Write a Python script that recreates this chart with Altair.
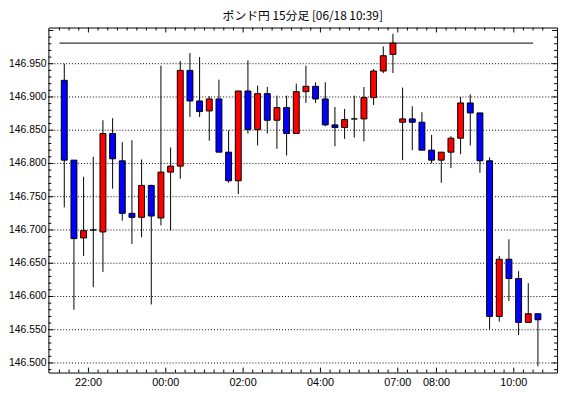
import altair as alt
import pandas as pd

times = ["21:15", "21:30", "21:45", "22:00", "22:15", "22:30", "22:45", "23:00", "23:15", "23:30",
         "23:45", "00:00", "00:15", "00:30", "00:45", "01:00", "01:15", "01:30", "01:45", "02:00",
         "02:15", "02:30", "02:45", "03:00", "03:15", "03:30", "03:45", "04:00", "04:15", "04:30",
         "04:45", "05:00", "05:15", "05:30", "05:45", "07:00", "07:15", "07:30", "07:45", "08:00",
         "08:15", "08:30", "08:45", "09:00", "09:15", "09:30", "09:45", "10:00", "10:15", "10:30"]
opens = [146.925, 146.805, 146.688, 146.700, 146.697, 146.845, 146.804, 146.725, 146.719, 146.767,
         146.718, 146.787, 146.796, 146.940, 146.894, 146.879, 146.897, 146.817, 146.774, 146.909,
         146.851, 146.905, 146.865, 146.884, 146.845, 146.908, 146.916, 146.897, 146.858, 146.854,
         146.867, 146.867, 146.899, 146.939, 146.964, 146.862, 146.867, 146.862, 146.820, 146.805,
         146.817, 146.838, 146.891, 146.876, 146.804, 146.570, 146.656, 146.627, 146.561, 146.574]
highs = [146.950, 146.805, 146.780, 146.810, 146.865, 146.868, 146.832, 146.835, 146.806, 146.768,
         146.947, 146.824, 146.954, 146.966, 146.960, 146.901, 146.926, 146.850, 146.909, 146.955,
         146.917, 146.915, 146.902, 146.902, 146.920, 146.947, 146.922, 146.922, 146.885, 146.882,
         146.902, 146.915, 146.942, 146.976, 146.995, 146.914, 146.886, 146.877, 146.843, 146.817,
         146.841, 146.900, 146.904, 146.876, 146.809, 146.661, 146.686, 146.638, 146.620, 146.574]
lows = [146.734, 146.580, 146.661, 146.614, 146.637, 146.762, 146.714, 146.679, 146.689, 146.588,
        146.707, 146.699, 146.777, 146.870, 146.870, 146.834, 146.817, 146.771, 146.754, 146.845,
        146.827, 146.845, 146.822, 146.812, 146.845, 146.891, 146.891, 146.856, 146.826, 146.837,
        146.839, 146.833, 146.888, 146.936, 146.936, 146.805, 146.820, 146.820, 146.800, 146.771,
        146.793, 146.814, 146.827, 146.786, 146.551, 146.562, 146.593, 146.542, 146.561, 146.495]
closes = [146.805, 146.687, 146.699, 146.700, 146.845, 146.807, 146.725, 146.719, 146.767, 146.721,
          146.787, 146.796, 146.940, 146.894, 146.878, 146.897, 146.817, 146.774, 146.909, 146.851,
          146.905, 146.865, 146.884, 146.845, 146.908, 146.916, 146.897, 146.858, 146.854, 146.866,
          146.867, 146.899, 146.939, 146.962, 146.981, 146.867, 146.862, 146.820, 146.805, 146.817,
          146.838, 146.891, 146.876, 146.804, 146.570, 146.656, 146.627, 146.561, 146.574, 146.565]
label_times = ["22:00", "00:00", "02:00", "04:00", "07:00", "08:00", "10:00"]
y_labels = ["146.500", "146.550", "146.600", "146.650", "146.700", "146.750", "146.800",
            "146.850", "146.900", "146.950"]
ref_line = 146.981
ref_line_from = "21:15"
ref_line_to = "10:15"
title_text = "ポンド円 15分足 [06/18 10:39]"

W, H = 516, 350
FONT = "Liberation Sans"

n = len(times)
df = pd.DataFrame({"idx": list(range(n)), "time": times, "open": opens, "high": highs,
                   "low": lows, "close": closes})
df["dir"] = ["up" if c >= o else "down" for o, c in zip(opens, closes)]

x_scale = alt.Scale(domain=[-1.13, 50.47], nice=False, zero=False)
y_scale = alt.Scale(domain=[146.4856, 147.0044], nice=False, zero=False)

label_pos = [times.index(t) - 0.5 for t in label_times]
grid_y = [float(s) for s in y_labels]
major_y = grid_y + [147.00]
minor_y = [round(146.49 + 0.01 * k, 2) for k in range(52)]
minor_y = [v for v in minor_y if round(v * 100) % 5 != 0]
minor_x = [i - 0.5 for i in range(n + 1) if (i - 0.5) not in label_pos and i - 0.5 < 50.47]


def hticks(vals, x0, x1, dash=None):
    kw = {"strokeDash": dash} if dash else {}
    return alt.Chart(pd.DataFrame({"v": vals})).mark_rule(color="black", strokeWidth=1, **kw).encode(
        y=alt.Y("v:Q", scale=y_scale, axis=None), x=alt.value(x0), x2=alt.value(x1))


def vticks(vals, y0, y1):
    return alt.Chart(pd.DataFrame({"v": vals})).mark_rule(color="black", strokeWidth=1).encode(
        x=alt.X("v:Q", scale=x_scale, axis=None), y=alt.value(y0), y2=alt.value(y1))


base = alt.Chart(df)

grid = hticks(grid_y, 0, W, dash=[1, 2])

wicks = base.mark_rule(color="black", strokeWidth=1).encode(
    x=alt.X("idx:Q", scale=x_scale, axis=None),
    y=alt.Y("low:Q", scale=y_scale, axis=None),
    y2="high:Q",
)

bodies = base.mark_bar(width=6, stroke="black", strokeWidth=1).encode(
    x=alt.X("idx:Q", scale=x_scale, axis=None),
    y=alt.Y("open:Q", scale=y_scale, axis=None),
    y2="close:Q",
    fill=alt.Fill("dir:N", scale=alt.Scale(domain=["up", "down"], range=["#ff0000", "#0000ff"]),
                  legend=None),
)

line_df = pd.DataFrame({"a": [times.index(ref_line_from) - 0.5],
                        "b": [times.index(ref_line_to) + 0.5], "v": [ref_line]})
hline = alt.Chart(line_df).mark_rule(color="black", strokeWidth=1).encode(
    x=alt.X("a:Q", scale=x_scale, axis=None), x2="b:Q",
    y=alt.Y("v:Q", scale=y_scale, axis=None))

xlab_df = pd.DataFrame({"pos": label_pos, "lab": label_times})
xlabels = alt.Chart(xlab_df).mark_text(font=FONT, fontSize=11, color="black", baseline="top",
                                       align="center").encode(
    x=alt.X("pos:Q", scale=x_scale, axis=None), y=alt.value(H + 5), text="lab:N")

ylab_df = pd.DataFrame({"v": grid_y, "lab": y_labels})
ylabels = alt.Chart(ylab_df).mark_text(font=FONT, fontSize=10.5, color="black", baseline="middle",
                                       align="right").encode(
    y=alt.Y("v:Q", scale=y_scale, axis=None), x=alt.value(-2), text="lab:N")

title = alt.Chart(pd.DataFrame({"t": [title_text]})).mark_text(
    font="Noto Sans CJK JP", fontSize=12, color="black", baseline="bottom", align="center").encode(
    x=alt.value(W / 2), y=alt.value(-5), text="t:N")

layers = [
    grid,
    hticks(major_y, 0, 5), hticks(minor_y, 0, 3),
    hticks(major_y, W - 5, W), hticks(minor_y, W - 3, W),
    vticks(label_pos, 0, 5), vticks(minor_x, 0, 3),
    vticks(label_pos, H - 5, H), vticks(minor_x, H - 3, H),
    hline, wicks, bodies, xlabels, ylabels, title,
]

chart = alt.layer(*layers).properties(
    width=W, height=H,
    background="white",
    autosize=alt.AutoSizeParams(type="none"),
    padding={"left": 41, "top": 17, "right": 5, "bottom": 23},
).configure_view(stroke="black", strokeWidth=1)

chart.save("out.html", embed_options={"renderer": "svg", "actions": False})
